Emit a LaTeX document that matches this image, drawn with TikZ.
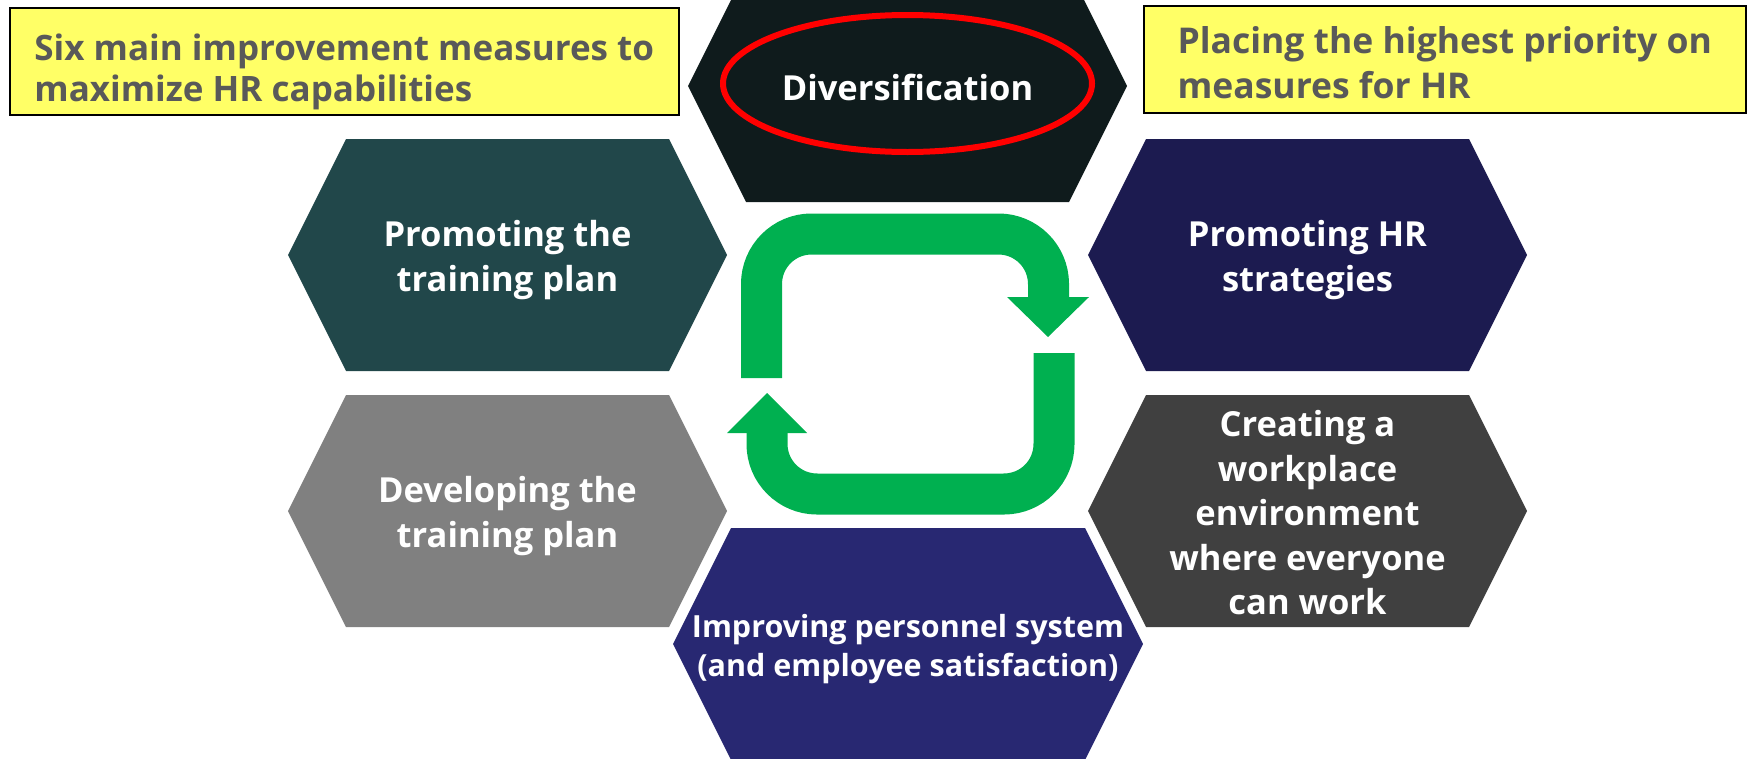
\documentclass[tikz,border=0pt]{standalone}
\usepackage{fontspec}
\setmainfont{Open Sans}

\definecolor{hextop}{HTML}{0F1B1C}
\definecolor{hexteal}{HTML}{21474A}
\definecolor{hexnavy}{HTML}{1C1B50}
\definecolor{hexgray}{HTML}{808080}
\definecolor{hexdgray}{HTML}{404040}
\definecolor{hexblue}{HTML}{282872}
\definecolor{loopgreen}{HTML}{00B050}
\definecolor{noteyellow}{HTML}{FFFF66}
\definecolor{notegray}{HTML}{595959}

\tikzset{
  hexlabel/.style={text=white, align=center, inner sep=0pt,
    font=\bfseries\fontsize{34.5}{44.5}\selectfont},
  notebox/.style={draw=black, line width=1.5pt, fill=noteyellow,
    anchor=north west, inner sep=0pt, minimum height=107pt},
  notelabel/.style={text=notegray, align=left, inner sep=0pt,
    font=\bfseries\fontsize{35}{41}\selectfont},
  loopline/.style={draw=loopgreen, line width=41pt, rounded corners=50pt},
  redring/.style={draw=red, line width=6pt},
}

% hexagon round a coordinate: #1 centre, #2 half width, #3 colour
\newcommand{\hexfill}[3]{%
  \fill[#3] (#1) ++(-#2,0) -- ++(58,-116) -- ++({2*#2-116},0) -- ++(58,116)
    -- ++(-58,116) -- ++({116-2*#2},0) -- cycle;}

\begin{document}
\begin{tikzpicture}[x=1pt, y=-1pt]
  \useasboundingbox (0,0) rectangle (1748,758);
  \clip (0,0) rectangle (1748,758);

  \coordinate (div) at (907.5,86);
  \coordinate (promtrain) at (507.5,255);
  \coordinate (promhr) at (1307.5,255);
  \coordinate (devtrain) at (507.5,511);
  \coordinate (workenv) at (1307.5,511);
  \coordinate (personnel) at (908,644);

  \hexfill{div}{219.5}{hextop}
  \hexfill{promtrain}{219.5}{hexteal}
  \hexfill{promhr}{219.5}{hexnavy}
  \hexfill{devtrain}{219.5}{hexgray}
  \hexfill{workenv}{219.5}{hexdgray}
  \hexfill{personnel}{235}{hexblue}

  \node[hexlabel, yshift=-1pt] (divtext) at (div) {Diversification};
  \node[hexlabel, yshift=-5pt] (promtraintext) at (promtrain) {Promoting the\\training plan};
  \node[hexlabel, yshift=-5pt] (promhrtext) at (promhr) {Promoting HR\\strategies};
  \node[hexlabel, yshift=-5pt] (devtraintext) at (devtrain) {Developing the\\training plan};
  \node[hexlabel, yshift=-2pt] (workenvtext) at (workenv)
    {Creating a\\workplace\\environment\\where everyone\\can work};
  \node[hexlabel, yshift=-5pt, font=\bfseries\fontsize{30.5}{39}\selectfont] (personneltext)
    at (personnel) {Improving personnel system\\(and employee satisfaction)};

  % highlight
  \draw[redring] (907.5,83.5) ellipse [x radius=184.5, y radius=68.5];

  % cycle arrows
  \coordinate (upstart) at (761.5,378);
  \coordinate (upend) at (1048.5,297);
  \draw[loopline] (upstart) -- (761.5,234) -- (1048.5,234) -- (upend);
  \fill[loopgreen] (1007,297) -- (1089,297) -- (1048,337) -- cycle;
  \coordinate (downstart) at (1054,353);
  \coordinate (downend) at (767,433);
  \draw[loopline] (downstart) -- (1054,494) -- (767,494) -- (downend);
  \fill[loopgreen] (727,433) -- (807,433) -- (767,393) -- cycle;

  \node[notebox, minimum width=669pt] (leftnote) at (9,7) {};
  \node[notelabel] (leftnotetext) at ([yshift=-11pt]leftnote.center)
    {Six main improvement measures to\\maximize HR capabilities};
  \node[notebox, minimum width=602pt] (rightnote) at (1143,5) {};
  \node[notelabel, font=\bfseries\fontsize{35.5}{45}\selectfont] (rightnotetext)
    at ([yshift=-3pt]rightnote.center)
    {Placing the highest priority on\\measures for HR};
\end{tikzpicture}
\end{document}
